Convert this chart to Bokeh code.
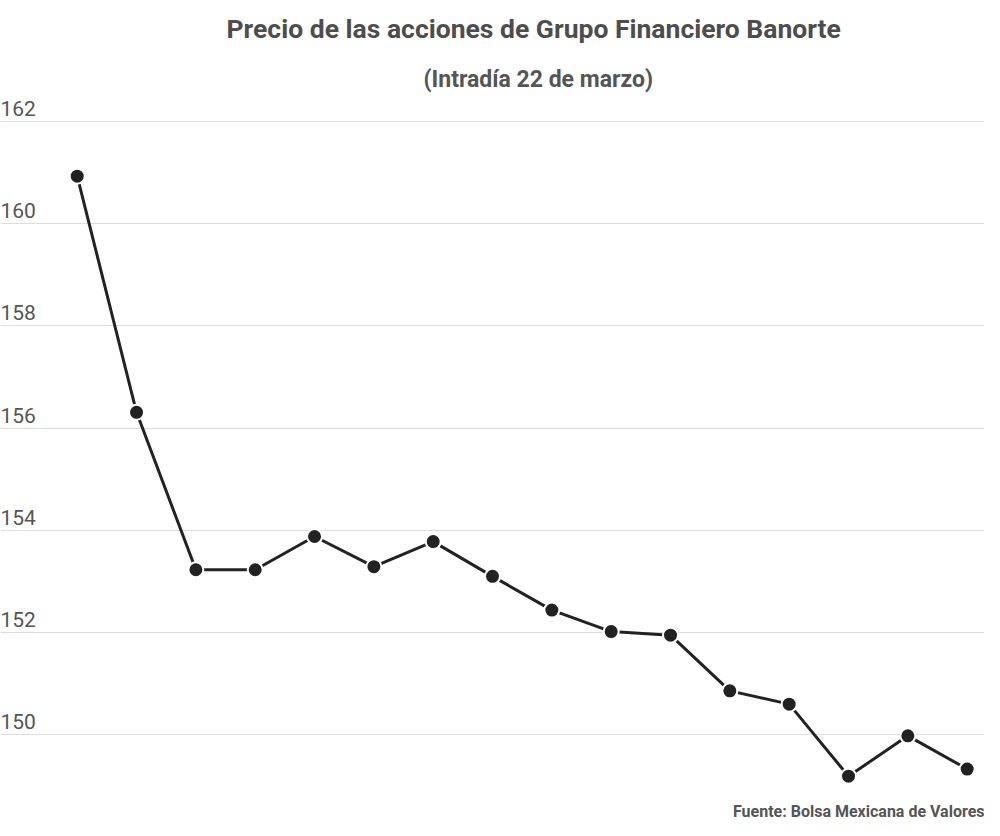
from bokeh.plotting import figure
from bokeh.models import Range1d, FixedTicker, Title, Label, ColumnDataSource
from bokeh.embed import file_html
from bokeh.resources import INLINE

# ---- data ----
title_text = "Precio de las acciones de Grupo Financiero Banorte"
subtitle_text = "(Intradía 22 de marzo)"
source_text = "Fuente: Bolsa Mexicana de Valores"
step = list(range(16))
price = [160.93, 156.31, 153.23, 153.23, 153.88, 153.29, 153.78, 153.10,
         152.44, 152.02, 151.95, 150.86, 150.60, 149.19, 149.98, 149.33]
y_ticks = [150, 152, 154, 156, 158, 160, 162]
y_tick_labels = ["150", "152", "154", "156", "158", "160", "162"]

FONT = "Roboto"
TEXT_COLOR = "#555555"
LINE_COLOR = "#222222"

p = figure(width=984, height=820, output_backend="svg", toolbar_location=None,
           title=None, x_range=Range1d(-1.293, 15.292), y_range=Range1d(148.734, 162.470),
           min_border_left=0, min_border_right=0, min_border_top=97, min_border_bottom=21)

p.outline_line_color = None
p.background_fill_color = "white"
p.border_fill_color = "white"

p.xaxis.visible = False
p.yaxis.visible = False
p.xgrid.visible = False
p.ygrid.ticker = FixedTicker(ticks=y_ticks)
p.ygrid.grid_line_color = "#dddddd"
p.ygrid.grid_line_width = 1

# titles (added nearest-first)
sub = Title(text=subtitle_text, align="left", offset=423, text_font=FONT, text_font_size="23px",
            text_font_style="bold", text_color=TEXT_COLOR, standoff=9.7)
p.add_layout(sub, "above")
main = Title(text=title_text, align="left", offset=226, text_font=FONT, text_font_size="26.5px",
             text_font_style="bold", text_color="#4d4d4d", standoff=25.4,
             vertical_align="top")
p.add_layout(main, "above")

src = Title(text=source_text, align="right", text_font=FONT, text_font_size="16px",
            text_font_style="bold", text_color=TEXT_COLOR, standoff=0)
p.add_layout(src, "below")

# y tick labels above gridlines
for v, lab in zip(y_ticks, y_tick_labels):
    p.add_layout(Label(x=p.x_range.start, y=v, text=lab, text_font=FONT,
                       text_font_size="21px", text_color=TEXT_COLOR,
                       text_baseline="alphabetic", text_align="left",
                       x_offset=0, y_offset=13))

cds = ColumnDataSource(data=dict(x=step, y=price))
p.line("x", "y", source=cds, line_color=LINE_COLOR, line_width=3)
p.scatter("x", "y", source=cds, size=15, fill_color=LINE_COLOR,
          line_color="white", line_width=2)

open("out.html", "w").write(file_html(p, INLINE))
